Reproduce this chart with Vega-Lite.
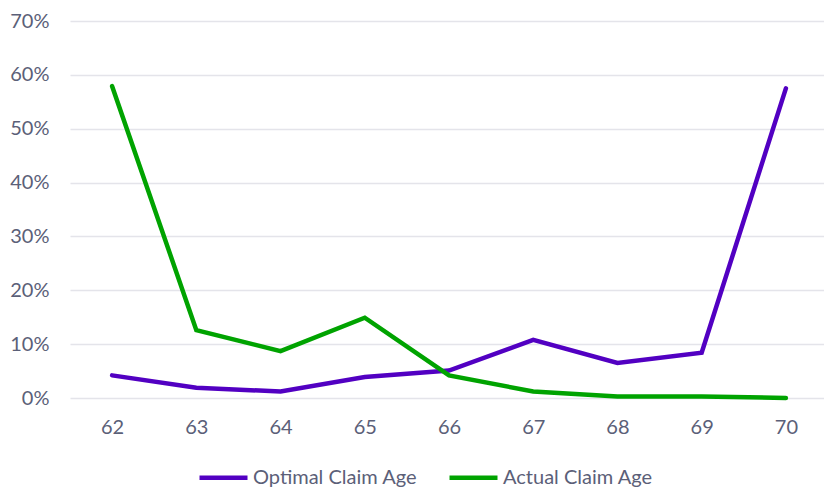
{
  "$schema": "https://vega.github.io/schema/vega-lite/v6.json",
  "width": 758,
  "height": 377,
  "autosize": {"type": "none"},
  "padding": {"left": 70, "top": 21, "right": 0, "bottom": 91},
  "background": "white",
  "config": {
    "view": {"stroke": null},
    "font": "Lato"
  },
  "data": {
    "values": [
      {"age": 62, "series": "Optimal Claim Age", "share": 0.042},
      {"age": 63, "series": "Optimal Claim Age", "share": 0.019},
      {"age": 64, "series": "Optimal Claim Age", "share": 0.012},
      {"age": 65, "series": "Optimal Claim Age", "share": 0.039},
      {"age": 66, "series": "Optimal Claim Age", "share": 0.051},
      {"age": 67, "series": "Optimal Claim Age", "share": 0.108},
      {"age": 68, "series": "Optimal Claim Age", "share": 0.065},
      {"age": 69, "series": "Optimal Claim Age", "share": 0.084},
      {"age": 70, "series": "Optimal Claim Age", "share": 0.575},
      {"age": 62, "series": "Actual Claim Age", "share": 0.579},
      {"age": 63, "series": "Actual Claim Age", "share": 0.126},
      {"age": 64, "series": "Actual Claim Age", "share": 0.087},
      {"age": 65, "series": "Actual Claim Age", "share": 0.149},
      {"age": 66, "series": "Actual Claim Age", "share": 0.042},
      {"age": 67, "series": "Actual Claim Age", "share": 0.012},
      {"age": 68, "series": "Actual Claim Age", "share": 0.003},
      {"age": 69, "series": "Actual Claim Age", "share": 0.003},
      {"age": 70, "series": "Actual Claim Age", "share": 0.0}
    ]
  },
  "mark": {"type": "line", "strokeWidth": 4.5, "strokeCap": "round", "strokeJoin": "miter"},
  "encoding": {
    "x": {
      "field": "age",
      "type": "ordinal",
      "scale": {"type": "point", "padding": 0.5},
      "axis": {
        "title": null,
        "labelAngle": 0,
        "labelFontSize": 20,
        "labelColor": "#5b6078",
        "labelPadding": 19,
        "domain": false,
        "ticks": false,
        "grid": false
      }
    },
    "y": {
      "field": "share",
      "type": "quantitative",
      "scale": {"domain": [0, 0.7]},
      "axis": {
        "title": null,
        "format": ".0%",
        "values": [0, 0.1, 0.2, 0.3, 0.4, 0.5, 0.6, 0.7],
        "labelOverlap": false,
        "labelFontSize": 20,
        "labelColor": "#5b6078",
        "labelPadding": 21,
        "domain": false,
        "ticks": false,
        "gridColor": "#e4e4ea",
        "gridWidth": 1.5
      }
    },
    "color": {
      "field": "series",
      "type": "nominal",
      "sort": ["Optimal Claim Age", "Actual Claim Age"],
      "scale": {"domain": ["Optimal Claim Age", "Actual Claim Age"], "range": ["#5200c2", "#00a300"]},
      "legend": {
        "title": null,
        "orient": "none",
        "legendX": 127,
        "legendY": 430,
        "direction": "horizontal",
        "symbolType": "stroke",
        "symbolSize": 2304,
        "symbolStrokeWidth": 4.5,
        "labelFontSize": 20,
        "labelLimit": 0,
        "labelColor": "#5b6078",
        "labelOffset": 3,
        "columnPadding": 22
      }
    }
  }
}
